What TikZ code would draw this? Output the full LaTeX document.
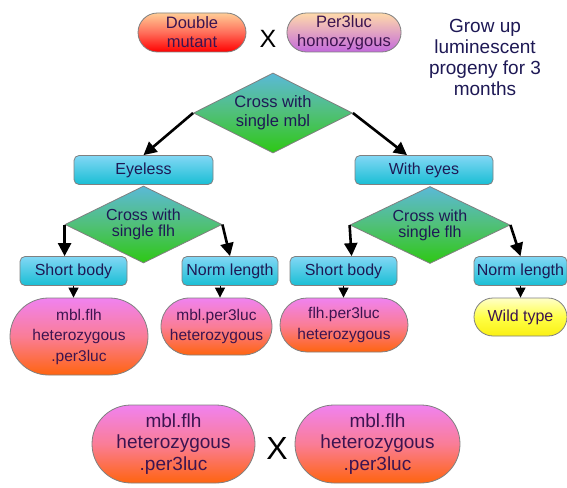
\documentclass[tikz,border=0pt]{standalone}
\usepackage{fontspec}
\setmainfont{Liberation Sans}
\usetikzlibrary{shapes.geometric,shapes.misc,arrows.meta}

\definecolor{txt}{RGB}{30,25,85}
\definecolor{pilltxt}{RGB}{60,20,80}
\definecolor{edge}{RGB}{128,128,128}
\definecolor{cyantop}{RGB}{130,215,245}
\definecolor{cyanbot}{RGB}{25,190,212}
\definecolor{dtop}{RGB}{90,185,215}
\definecolor{dmid}{RGB}{80,192,120}
\definecolor{dbot}{RGB}{45,200,20}
\definecolor{pinktop}{RGB}{240,130,240}
\definecolor{pinkmid}{RGB}{250,125,150}
\definecolor{pinkbot}{RGB}{255,100,15}
\definecolor{redtop}{RGB}{255,205,150}
\definecolor{redmid}{RGB}{255,110,90}
\definecolor{redbot}{RGB}{255,0,0}
\definecolor{violtop}{RGB}{255,218,170}
\definecolor{violbot}{RGB}{195,105,220}
\definecolor{yeltop}{RGB}{255,255,200}
\definecolor{yelmid}{RGB}{255,255,70}
\definecolor{yelbot}{RGB}{250,240,20}

\tikzset{
  base/.style={draw=edge, line width=0.8pt, text=txt, align=center, inner sep=0pt},
  cyanbox/.style={base, rectangle, rounded corners=5pt, minimum height=29pt,
    top color=cyantop, bottom color=cyanbot, font=\fontsize{16}{19}\selectfont},
  decision/.style={base, diamond, aspect=2, top color=dtop, bottom color=dbot,
    middle color=dmid},
  pill/.style={base, rounded rectangle},
  pinkpill/.style={pill, text=pilltxt, top color=pinktop, bottom color=pinkbot, middle color=pinkmid},
  bigarrow/.style={-{Triangle[length=13pt,width=13pt]}, line width=2.6pt, black},
  tiparrow/.style={-{Triangle[length=10pt,width=10pt]}, line width=1pt, black},
  crossmark/.style={text=black, inner sep=0pt}
}

\begin{document}
\begin{tikzpicture}[x=1pt,y=-1pt]
\useasboundingbox[fill=white] (0,0) rectangle (567,487);

% parents
\node[pill, text=pilltxt, top color=redtop, bottom color=redbot, middle color=redmid,
      minimum width=108pt, minimum height=39pt,
      font=\fontsize{16.5}{19}\selectfont] (dm) at (192,32.5) {Double\\mutant};
\node[crossmark, font=\fontsize{25}{25}\selectfont] (x1) at (268,39) {X};
\node[pill, text=pilltxt, top color=violtop, bottom color=violbot,
      minimum width=108pt, minimum height=39pt,
      font=\fontsize{16.5}{19}\selectfont] (p3) at (344,32.5) {Per3luc\\homozygous};
\node[text=txt, align=center, inner sep=0pt,
      font=\fontsize{19}{21}\selectfont] (grow) at (485,57)
      {Grow up\\luminescent\\progeny for 3\\months};

% first cross
\node[decision, minimum width=159pt, minimum height=80pt,
      font=\fontsize{16.5}{19}\selectfont] (d1) at (273,113) {Cross with\\single mbl};
\node[cyanbox, minimum width=139pt] (eyeless) at (143.5,170) {Eyeless};
\node[cyanbox, minimum width=138pt] (eyes) at (424,170) {With eyes};

% second crosses
\node[decision, minimum width=157pt, minimum height=77pt,
      font=\fontsize{16}{16}\selectfont] (d2) at (143.5,224.5) {Cross with\\single flh};
\node[decision, minimum width=160pt, minimum height=77pt,
      font=\fontsize{16}{16}\selectfont] (d3) at (430,225) {Cross with\\single flh};

\node[cyanbox, minimum width=107pt] (sb1) at (73.5,271) {Short body};
\node[cyanbox, minimum width=96pt] (nl1) at (230,271) {Norm length};
\node[cyanbox, minimum width=107pt] (sb2) at (343.5,271) {Short body};
\node[cyanbox, minimum width=93pt] (nl2) at (520.5,271) {Norm length};

% progeny
\node[pinkpill, minimum width=138pt, minimum height=77pt,
      font=\fontsize{15.5}{20.5}\selectfont] (r1) at (79,336.5)
      {mbl.flh\\heterozygous\\.per3luc};
\node[pinkpill, minimum width=111pt, minimum height=57pt,
      font=\fontsize{15.5}{20.5}\selectfont] (r2) at (216.5,326.5)
      {mbl.per3luc\\heterozygous};
\node[pinkpill, minimum width=128pt, minimum height=54pt,
      font=\fontsize{15.5}{20.5}\selectfont] (r3) at (344,325)
      {flh.per3luc\\heterozygous};
\node[pill, text=pilltxt, top color=yeltop, bottom color=yelbot, middle color=yelmid,
      minimum width=93pt, minimum height=38pt,
      font=\fontsize{16}{19}\selectfont] (r4) at (520.5,317) {Wild type};

% final cross
\node[pinkpill, minimum width=163pt, minimum height=78pt,
      font=\fontsize{19}{21.5}\selectfont] (b1) at (173.5,444)
      {mbl.flh\\heterozygous\\.per3luc};
\node[crossmark, font=\fontsize{32}{32}\selectfont] (x2) at (277,448) {X};
\node[pinkpill, minimum width=165pt, minimum height=78pt,
      font=\fontsize{19}{21.5}\selectfont] (b2) at (377.5,444)
      {mbl.flh\\heterozygous\\.per3luc};

% connectors
\draw[bigarrow] (d1.west) -- (eyeless.north);
\draw[bigarrow] (d1.east) -- ([xshift=-17pt]eyes.north);
\draw[bigarrow] (d2.west) -- (d2.west |- sb1.north);
\draw[bigarrow] (d2.east) -- (nl1.north);
\draw[bigarrow] (d3.west) -- ([xshift=2pt]d3.west |- sb2.north);
\draw[bigarrow] (d3.east) -- (nl2.north);

\draw[tiparrow] (sb1.south) -- (sb1.south |- r1.north);
\draw[tiparrow] ([xshift=-10pt]nl1.south) -- ([xshift=-10pt]nl1.south |- r2.north);
\draw[tiparrow] (sb2.south) -- (sb2.south |- r3.north);
\draw[tiparrow] (nl2.south) -- (nl2.south |- r4.north);
\end{tikzpicture}
\end{document}
